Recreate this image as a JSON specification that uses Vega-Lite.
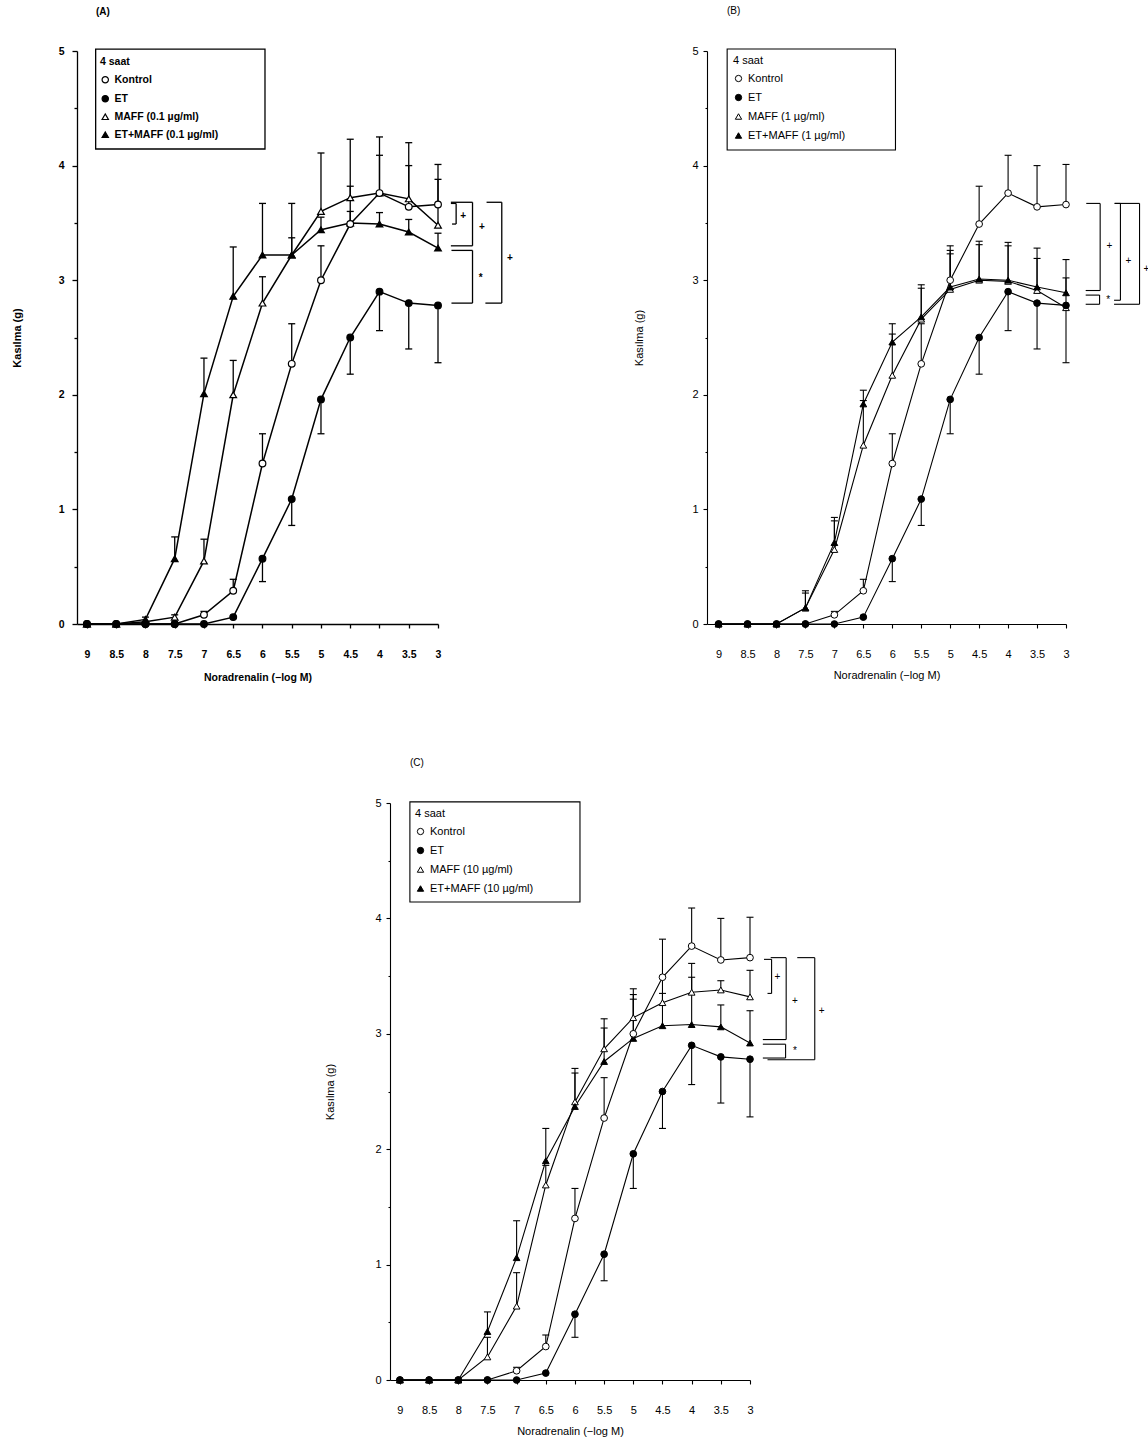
{
  "$schema": "https://vega.github.io/schema/vega-lite/v6.json",
  "background": "white",
  "padding": {"left": 11, "top": 6, "right": 0, "bottom": 5},
  "config": {
    "view": {"stroke": null},
    "font": "Liberation Sans",
    "axis": {"domainColor": "black", "tickColor": "black", "labelColor": "black", "titleColor": "black", "grid": false, "labelFlush": false, "labelOverlap": false, "labelFont": "Liberation Sans", "titleFont": "Liberation Sans"},
    "legend": {"labelFont": "Liberation Sans", "titleFont": "Liberation Sans", "labelColor": "black", "titleColor": "black"},
    "title": {"font": "Liberation Sans", "color": "black"},
    "text": {"font": "Liberation Sans"}
  },
  "datasets": {
    "curves": [
      {"p":"A","g":"MAFF (0.1 µg/ml)","x":9,"y":0},
      {"p":"A","g":"MAFF (0.1 µg/ml)","x":8.5,"y":0},
      {"p":"A","g":"MAFF (0.1 µg/ml)","x":8,"y":0.02},
      {"p":"A","g":"MAFF (0.1 µg/ml)","x":7.5,"y":0.06,"e":0.08},
      {"p":"A","g":"MAFF (0.1 µg/ml)","x":7,"y":0.55,"e":0.74},
      {"p":"A","g":"MAFF (0.1 µg/ml)","x":6.5,"y":2.0,"e":2.3},
      {"p":"A","g":"MAFF (0.1 µg/ml)","x":6,"y":2.8,"e":3.03},
      {"p":"A","g":"MAFF (0.1 µg/ml)","x":5.5,"y":3.22,"e":3.67},
      {"p":"A","g":"MAFF (0.1 µg/ml)","x":5,"y":3.6,"e":4.11},
      {"p":"A","g":"MAFF (0.1 µg/ml)","x":4.5,"y":3.72,"e":4.23},
      {"p":"A","g":"MAFF (0.1 µg/ml)","x":4,"y":3.76,"e":4.25},
      {"p":"A","g":"MAFF (0.1 µg/ml)","x":3.5,"y":3.71,"e":4.2},
      {"p":"A","g":"MAFF (0.1 µg/ml)","x":3,"y":3.48,"e":3.88},
      {"p":"A","g":"ET+MAFF (0.1 µg/ml)","x":9,"y":0},
      {"p":"A","g":"ET+MAFF (0.1 µg/ml)","x":8.5,"y":0},
      {"p":"A","g":"ET+MAFF (0.1 µg/ml)","x":8,"y":0.04,"e":0.06},
      {"p":"A","g":"ET+MAFF (0.1 µg/ml)","x":7.5,"y":0.57,"e":0.76},
      {"p":"A","g":"ET+MAFF (0.1 µg/ml)","x":7,"y":2.01,"e":2.32},
      {"p":"A","g":"ET+MAFF (0.1 µg/ml)","x":6.5,"y":2.86,"e":3.29},
      {"p":"A","g":"ET+MAFF (0.1 µg/ml)","x":6,"y":3.22,"e":3.67},
      {"p":"A","g":"ET+MAFF (0.1 µg/ml)","x":5.5,"y":3.22,"e":3.37},
      {"p":"A","g":"ET+MAFF (0.1 µg/ml)","x":5,"y":3.44,"e":3.55},
      {"p":"A","g":"ET+MAFF (0.1 µg/ml)","x":4.5,"y":3.5,"e":3.6},
      {"p":"A","g":"ET+MAFF (0.1 µg/ml)","x":4,"y":3.49,"e":3.59},
      {"p":"A","g":"ET+MAFF (0.1 µg/ml)","x":3.5,"y":3.42,"e":3.53},
      {"p":"A","g":"ET+MAFF (0.1 µg/ml)","x":3,"y":3.28,"e":3.41},
      {"p":"B","g":"MAFF (1 µg/ml)","x":9,"y":0},
      {"p":"B","g":"MAFF (1 µg/ml)","x":8.5,"y":0},
      {"p":"B","g":"MAFF (1 µg/ml)","x":8,"y":0},
      {"p":"B","g":"MAFF (1 µg/ml)","x":7.5,"y":0.14,"e":0.27},
      {"p":"B","g":"MAFF (1 µg/ml)","x":7,"y":0.65,"e":0.9},
      {"p":"B","g":"MAFF (1 µg/ml)","x":6.5,"y":1.56,"e":1.95},
      {"p":"B","g":"MAFF (1 µg/ml)","x":6,"y":2.17,"e":2.53},
      {"p":"B","g":"MAFF (1 µg/ml)","x":5.5,"y":2.66,"e":2.93},
      {"p":"B","g":"MAFF (1 µg/ml)","x":5,"y":2.92,"e":3.23},
      {"p":"B","g":"MAFF (1 µg/ml)","x":4.5,"y":3.0,"e":3.31},
      {"p":"B","g":"MAFF (1 µg/ml)","x":4,"y":2.99,"e":3.3},
      {"p":"B","g":"MAFF (1 µg/ml)","x":3.5,"y":2.91,"e":3.19},
      {"p":"B","g":"MAFF (1 µg/ml)","x":3,"y":2.76,"e":3.02},
      {"p":"B","g":"ET+MAFF (1 µg/ml)","x":9,"y":0},
      {"p":"B","g":"ET+MAFF (1 µg/ml)","x":8.5,"y":0},
      {"p":"B","g":"ET+MAFF (1 µg/ml)","x":8,"y":0},
      {"p":"B","g":"ET+MAFF (1 µg/ml)","x":7.5,"y":0.14,"e":0.29},
      {"p":"B","g":"ET+MAFF (1 µg/ml)","x":7,"y":0.71,"e":0.93},
      {"p":"B","g":"ET+MAFF (1 µg/ml)","x":6.5,"y":1.92,"e":2.04},
      {"p":"B","g":"ET+MAFF (1 µg/ml)","x":6,"y":2.46,"e":2.62},
      {"p":"B","g":"ET+MAFF (1 µg/ml)","x":5.5,"y":2.68,"e":2.96},
      {"p":"B","g":"ET+MAFF (1 µg/ml)","x":5,"y":2.94,"e":3.26},
      {"p":"B","g":"ET+MAFF (1 µg/ml)","x":4.5,"y":3.01,"e":3.34},
      {"p":"B","g":"ET+MAFF (1 µg/ml)","x":4,"y":3.0,"e":3.33},
      {"p":"B","g":"ET+MAFF (1 µg/ml)","x":3.5,"y":2.94,"e":3.28},
      {"p":"B","g":"ET+MAFF (1 µg/ml)","x":3,"y":2.89,"e":3.18},
      {"p":"C","g":"MAFF (10 µg/ml)","x":9,"y":0},
      {"p":"C","g":"MAFF (10 µg/ml)","x":8.5,"y":0},
      {"p":"C","g":"MAFF (10 µg/ml)","x":8,"y":0},
      {"p":"C","g":"MAFF (10 µg/ml)","x":7.5,"y":0.2,"e":0.37},
      {"p":"C","g":"MAFF (10 µg/ml)","x":7,"y":0.64,"e":0.93},
      {"p":"C","g":"MAFF (10 µg/ml)","x":6.5,"y":1.69,"e":1.86},
      {"p":"C","g":"MAFF (10 µg/ml)","x":6,"y":2.41,"e":2.7},
      {"p":"C","g":"MAFF (10 µg/ml)","x":5.5,"y":2.87,"e":3.13},
      {"p":"C","g":"MAFF (10 µg/ml)","x":5,"y":3.14,"e":3.39},
      {"p":"C","g":"MAFF (10 µg/ml)","x":4.5,"y":3.27,"e":3.5},
      {"p":"C","g":"MAFF (10 µg/ml)","x":4,"y":3.36,"e":3.61},
      {"p":"C","g":"MAFF (10 µg/ml)","x":3.5,"y":3.38,"e":3.46},
      {"p":"C","g":"MAFF (10 µg/ml)","x":3,"y":3.32,"e":3.55},
      {"p":"C","g":"ET+MAFF (10 µg/ml)","x":9,"y":0},
      {"p":"C","g":"ET+MAFF (10 µg/ml)","x":8.5,"y":0},
      {"p":"C","g":"ET+MAFF (10 µg/ml)","x":8,"y":0},
      {"p":"C","g":"ET+MAFF (10 µg/ml)","x":7.5,"y":0.42,"e":0.59},
      {"p":"C","g":"ET+MAFF (10 µg/ml)","x":7,"y":1.06,"e":1.38},
      {"p":"C","g":"ET+MAFF (10 µg/ml)","x":6.5,"y":1.9,"e":2.18},
      {"p":"C","g":"ET+MAFF (10 µg/ml)","x":6,"y":2.37,"e":2.66},
      {"p":"C","g":"ET+MAFF (10 µg/ml)","x":5.5,"y":2.76,"e":3.05},
      {"p":"C","g":"ET+MAFF (10 µg/ml)","x":5,"y":2.96,"e":3.34},
      {"p":"C","g":"ET+MAFF (10 µg/ml)","x":4.5,"y":3.07,"e":3.35},
      {"p":"C","g":"ET+MAFF (10 µg/ml)","x":4,"y":3.08,"e":3.49},
      {"p":"C","g":"ET+MAFF (10 µg/ml)","x":3.5,"y":3.06,"e":3.25},
      {"p":"C","g":"ET+MAFF (10 µg/ml)","x":3,"y":2.92,"e":3.2},
      {"p":"all","g":"Kontrol","x":9,"y":0},
      {"p":"all","g":"Kontrol","x":8.5,"y":0},
      {"p":"all","g":"Kontrol","x":8,"y":0},
      {"p":"all","g":"Kontrol","x":7.5,"y":0},
      {"p":"all","g":"Kontrol","x":7,"y":0.08,"e":0.11},
      {"p":"all","g":"Kontrol","x":6.5,"y":0.29,"e":0.39},
      {"p":"all","g":"Kontrol","x":6,"y":1.4,"e":1.66},
      {"p":"all","g":"Kontrol","x":5.5,"y":2.27,"e":2.62},
      {"p":"all","g":"Kontrol","x":5,"y":3.0,"e":3.3},
      {"p":"all","g":"Kontrol","x":4.5,"y":3.49,"e":3.82},
      {"p":"all","g":"Kontrol","x":4,"y":3.76,"e":4.09},
      {"p":"all","g":"Kontrol","x":3.5,"y":3.64,"e":4.0},
      {"p":"all","g":"Kontrol","x":3,"y":3.66,"e":4.01},
      {"p":"all","g":"ET","x":9,"y":0},
      {"p":"all","g":"ET","x":8.5,"y":0},
      {"p":"all","g":"ET","x":8,"y":0},
      {"p":"all","g":"ET","x":7.5,"y":0},
      {"p":"all","g":"ET","x":7,"y":0},
      {"p":"all","g":"ET","x":6.5,"y":0.06},
      {"p":"all","g":"ET","x":6,"y":0.57,"e":0.37},
      {"p":"all","g":"ET","x":5.5,"y":1.09,"e":0.86},
      {"p":"all","g":"ET","x":5,"y":1.96,"e":1.66},
      {"p":"all","g":"ET","x":4.5,"y":2.5,"e":2.18},
      {"p":"all","g":"ET","x":4,"y":2.9,"e":2.56},
      {"p":"all","g":"ET","x":3.5,"y":2.8,"e":2.4},
      {"p":"all","g":"ET","x":3,"y":2.78,"e":2.28}
    ],
    "brackets": [
      {"p":"A","xt":2.78,"xb":2.76,"xr":2.69,"yt":3.67,"yb":3.49,"lab":"+","lx":2.57,"ly":3.56},
      {"p":"A","xt":2.78,"xb":2.78,"xr":2.41,"yt":3.68,"yb":3.3,"lab":"+","lx":2.25,"ly":3.46},
      {"p":"A","xt":2.77,"xb":2.77,"xr":2.41,"yt":3.26,"yb":2.8,"lab":"*","lx":2.27,"ly":3.02},
      {"p":"A","xt":2.17,"xb":2.19,"xr":1.91,"yt":3.68,"yb":2.8,"lab":"+","lx":1.77,"ly":3.19},
      {"p":"B","xt":2.65,"xb":2.66,"xr":2.41,"yt":3.67,"yb":2.91,"lab":"+","lx":2.25,"ly":3.3},
      {"p":"B","xt":2.66,"xb":2.66,"xr":2.42,"yt":2.87,"yb":2.79,"lab":"*","lx":2.27,"ly":2.83},
      {"p":"B","xt":2.16,"xb":2.17,"xr":2.06,"yt":3.67,"yb":2.825,"lab":"+","lx":1.92,"ly":3.17},
      {"p":"B","xt":2.16,"xb":2.17,"xr":1.73,"yt":3.67,"yb":2.79,"lab":"+","lx":1.61,"ly":3.1},
      {"p":"C","xt":2.76,"xb":2.7,"xr":2.63,"yt":3.645,"yb":3.35,"lab":"+","lx":2.53,"ly":3.49},
      {"p":"C","xt":2.645,"xb":2.78,"xr":2.38,"yt":3.66,"yb":2.95,"lab":"+","lx":2.23,"ly":3.28},
      {"p":"C","xt":2.78,"xb":2.78,"xr":2.39,"yt":2.91,"yb":2.79,"lab":"*","lx":2.23,"ly":2.85},
      {"p":"C","xt":2.19,"xb":2.7,"xr":1.89,"yt":3.66,"yb":2.775,"lab":"+","lx":1.77,"ly":3.2}
    ]
  },
  "spacing": 75,
  "resolve": {"scale": {"shape": "independent", "fill": "independent", "stroke": "independent"}},
  "vconcat": [
    {
      "spacing": 120,
      "resolve": {"scale": {"shape": "independent", "fill": "independent", "stroke": "independent"}},
      "hconcat": [
        {
          "width": 361,
          "height": 573,
          "title": {"text": "(A)", "anchor": "start", "frame": "group", "dx": 19, "offset": 19, "baseline": "bottom", "fontSize": 10, "fontWeight": "bold"},
          "layer": [
            {
              "data": {"values": [{}]},
              "mark": {"type": "rect", "fill": "white", "stroke": "black", "strokeWidth": 1.3},
              "encoding": {
                "x": {"datum": 8.851, "type": "quantitative", "scale": {"domain": [3, 9.17], "reverse": true, "nice": false, "zero": false}},
                "x2": {"datum": 5.957},
                "y": {"datum": 5.017, "type": "quantitative", "scale": {"domain": [0, 5], "nice": false, "zero": false}},
                "y2": {"datum": 4.145}
              }
            },
            {
              "data": {"name": "curves"},
              "transform": [{"filter": "datum.p === 'A' || datum.p === 'all'"}],
              "mark": {"type": "line", "color": "black", "strokeWidth": 1.5},
              "encoding": {
                "x": {"field": "x", "type": "quantitative",
                  "scale": {"domain": [3, 9.17], "reverse": true, "nice": false, "zero": false},
                  "axis": {"title": "Noradrenalin (−log M)", "values": [9, 8.5, 8, 7.5, 7, 6.5, 6, 5.5, 5, 4.5, 4, 3.5, 3], "tickCount": 20, "format": "~g", "labelOverlap": false, "labelFlush": false, "tickSize": 4, "labelPadding": 21, "titlePadding": 13, "labelFontSize": 10.5, "labelFontWeight": "bold", "titleFontSize": 10.5, "titleFontWeight": "bold", "domainWidth": 1.3, "tickWidth": 1.3}},
                "y": {"field": "y", "type": "quantitative",
                  "scale": {"domain": [0, 5], "nice": false, "zero": false},
                  "axis": {"title": "Kasılma (g)", "values": [0, 0.5, 1, 1.5, 2, 2.5, 3, 3.5, 4, 4.5, 5], "tickCount": 20, "format": "~g", "labelOverlap": false, "labelExpr": "datum.value % 1 === 0 ? datum.label : ''", "tickSize": {"condition": {"test": "datum.value % 1 !== 0", "value": 3}, "value": 5}, "labelPadding": 8, "titlePadding": 36, "labelFontSize": 10.5, "labelFontWeight": "bold", "titleFontSize": 11, "titleFontWeight": "bold", "domainWidth": 1.3, "tickWidth": 1.3}},
                "detail": {"field": "g"}
              }
            },
            {
              "data": {"name": "curves"},
              "transform": [{"filter": "(datum.p === 'A' || datum.p === 'all') && datum.e != null"}],
              "mark": {"type": "rule", "color": "black", "strokeWidth": 1.3},
              "encoding": {"x": {"field": "x", "type": "quantitative"}, "y": {"field": "y", "type": "quantitative"}, "y2": {"field": "e"}}
            },
            {
              "data": {"name": "curves"},
              "transform": [{"filter": "(datum.p === 'A' || datum.p === 'all') && datum.e != null"}],
              "mark": {"type": "tick", "orient": "horizontal", "color": "black", "size": 7, "thickness": 1.3, "opacity": 1},
              "encoding": {"x": {"field": "x", "type": "quantitative"}, "y": {"field": "e", "type": "quantitative"}}
            },
            {
              "data": {"name": "curves"},
              "transform": [{"filter": "datum.p === 'A' || datum.p === 'all'"}],
              "mark": {"type": "point", "filled": true, "strokeWidth": 1.2, "size": 45, "opacity": 1},
              "encoding": {
                "x": {"field": "x", "type": "quantitative"},
                "y": {"field": "y", "type": "quantitative"},
                "shape": {"field": "g", "type": "nominal",
                  "scale": {"domain": ["Kontrol", "ET", "MAFF (0.1 µg/ml)", "ET+MAFF (0.1 µg/ml)"], "range": ["circle", "circle", "triangle-up", "triangle-up"]},
                  "legend": {"title": "4 saat", "orient": "none", "legendX": 17, "legendY": 0, "padding": 6, "titlePadding": 7, "rowPadding": 7, "labelOffset": 4, "symbolSize": 40, "symbolStrokeWidth": 1.2, "labelFontSize": 10.5, "labelFontWeight": "bold", "titleFontSize": 10.5, "titleFontWeight": "bold"}},
                "fill": {"field": "g", "type": "nominal",
                  "scale": {"domain": ["Kontrol", "ET", "MAFF (0.1 µg/ml)", "ET+MAFF (0.1 µg/ml)"], "range": ["white", "black", "white", "black"]},
                  "legend": {"title": "4 saat", "orient": "none", "legendX": 17, "legendY": 0, "padding": 6, "titlePadding": 7, "rowPadding": 7, "labelOffset": 4, "symbolSize": 40, "symbolStrokeWidth": 1.2, "labelFontSize": 10.5, "labelFontWeight": "bold", "titleFontSize": 10.5, "titleFontWeight": "bold"}},
                "stroke": {"field": "g", "type": "nominal",
                  "scale": {"domain": ["Kontrol", "ET", "MAFF (0.1 µg/ml)", "ET+MAFF (0.1 µg/ml)"], "range": ["black", "black", "black", "black"]},
                  "legend": {"title": "4 saat", "orient": "none", "legendX": 17, "legendY": 0, "padding": 6, "titlePadding": 7, "rowPadding": 7, "labelOffset": 4, "symbolSize": 40, "symbolStrokeWidth": 1.2, "labelFontSize": 10.5, "labelFontWeight": "bold", "titleFontSize": 10.5, "titleFontWeight": "bold"}}
              }
            },
            {
              "data": {"name": "brackets"},
              "transform": [{"filter": "datum.p === 'A'"}],
              "mark": {"type": "rule", "color": "black", "strokeWidth": 1.3},
              "encoding": {"x": {"field": "xt", "type": "quantitative"}, "x2": {"field": "xr"}, "y": {"field": "yt", "type": "quantitative"}}
            },
            {
              "data": {"name": "brackets"},
              "transform": [{"filter": "datum.p === 'A'"}],
              "mark": {"type": "rule", "color": "black", "strokeWidth": 1.3},
              "encoding": {"x": {"field": "xb", "type": "quantitative"}, "x2": {"field": "xr"}, "y": {"field": "yb", "type": "quantitative"}}
            },
            {
              "data": {"name": "brackets"},
              "transform": [{"filter": "datum.p === 'A'"}],
              "mark": {"type": "rule", "color": "black", "strokeWidth": 1.3},
              "encoding": {"x": {"field": "xr", "type": "quantitative"}, "y": {"field": "yt", "type": "quantitative"}, "y2": {"field": "yb"}}
            },
            {
              "data": {"name": "brackets"},
              "transform": [{"filter": "datum.p === 'A'"}],
              "mark": {"type": "text", "color": "black", "fontSize": 10, "fontWeight": "bold"},
              "encoding": {"x": {"field": "lx", "type": "quantitative"}, "y": {"field": "ly", "type": "quantitative"}, "text": {"field": "lab"}}
            }
          ]
        },
        {
          "width": 359,
          "height": 573,
          "title": {"text": "(B)", "anchor": "start", "frame": "group", "dx": 20, "offset": 19, "baseline": "bottom", "fontSize": 10, "fontWeight": "normal"},
          "layer": [
            {
              "data": {"values": [{}]},
              "mark": {"type": "rect", "fill": "white", "stroke": "black", "strokeWidth": 1.1},
              "encoding": {
                "x": {"datum": 8.852, "type": "quantitative", "scale": {"domain": [3, 9.2], "reverse": true, "nice": false, "zero": false}},
                "x2": {"datum": 5.945},
                "y": {"datum": 5.017, "type": "quantitative", "scale": {"domain": [0, 5], "nice": false, "zero": false}},
                "y2": {"datum": 4.136}
              }
            },
            {
              "data": {"name": "curves"},
              "transform": [{"filter": "datum.p === 'B' || datum.p === 'all'"}],
              "mark": {"type": "line", "color": "black", "strokeWidth": 1.1},
              "encoding": {
                "x": {"field": "x", "type": "quantitative",
                  "scale": {"domain": [3, 9.2], "reverse": true, "nice": false, "zero": false},
                  "axis": {"title": "Noradrenalin (−log M)", "values": [9, 8.5, 8, 7.5, 7, 6.5, 6, 5.5, 5, 4.5, 4, 3.5, 3], "tickCount": 20, "format": "~g", "labelOverlap": false, "labelFlush": false, "tickSize": 4, "labelPadding": 20, "titlePadding": 10, "labelFontSize": 11, "titleFontSize": 11, "titleFontWeight": "normal", "domainWidth": 1.1, "tickWidth": 1.1}},
                "y": {"field": "y", "type": "quantitative",
                  "scale": {"domain": [0, 5], "nice": false, "zero": false},
                  "axis": {"title": "Kasılma (g)", "values": [0, 0.5, 1, 1.5, 2, 2.5, 3, 3.5, 4, 4.5, 5], "tickCount": 20, "format": "~g", "labelOverlap": false, "labelExpr": "datum.value % 1 === 0 ? datum.label : ''", "tickSize": {"condition": {"test": "datum.value % 1 !== 0", "value": 2}, "value": 4}, "labelPadding": 5, "titlePadding": 47, "labelFontSize": 11, "titleFontSize": 11, "titleFontWeight": "normal", "domainWidth": 1.1, "tickWidth": 1.1}},
                "detail": {"field": "g"}
              }
            },
            {
              "data": {"name": "curves"},
              "transform": [{"filter": "(datum.p === 'B' || datum.p === 'all') && datum.e != null"}],
              "mark": {"type": "rule", "color": "black", "strokeWidth": 1.1},
              "encoding": {"x": {"field": "x", "type": "quantitative"}, "y": {"field": "y", "type": "quantitative"}, "y2": {"field": "e"}}
            },
            {
              "data": {"name": "curves"},
              "transform": [{"filter": "(datum.p === 'B' || datum.p === 'all') && datum.e != null"}],
              "mark": {"type": "tick", "orient": "horizontal", "color": "black", "size": 7, "thickness": 1.1, "opacity": 1},
              "encoding": {"x": {"field": "x", "type": "quantitative"}, "y": {"field": "e", "type": "quantitative"}}
            },
            {
              "data": {"name": "curves"},
              "transform": [{"filter": "datum.p === 'B' || datum.p === 'all'"}],
              "mark": {"type": "point", "filled": true, "strokeWidth": 1, "size": 45, "opacity": 1},
              "encoding": {
                "x": {"field": "x", "type": "quantitative"},
                "y": {"field": "y", "type": "quantitative"},
                "shape": {"field": "g", "type": "nominal",
                  "scale": {"domain": ["Kontrol", "ET", "MAFF (1 µg/ml)", "ET+MAFF (1 µg/ml)"], "range": ["circle", "circle", "triangle-up", "triangle-up"]},
                  "legend": {"title": "4 saat", "orient": "none", "legendX": 20, "legendY": -2, "padding": 6, "titlePadding": 7, "rowPadding": 7, "labelOffset": 4, "symbolSize": 40, "symbolStrokeWidth": 1, "labelFontSize": 11, "titleFontSize": 11, "titleFontWeight": "normal"}},
                "fill": {"field": "g", "type": "nominal",
                  "scale": {"domain": ["Kontrol", "ET", "MAFF (1 µg/ml)", "ET+MAFF (1 µg/ml)"], "range": ["white", "black", "white", "black"]},
                  "legend": {"title": "4 saat", "orient": "none", "legendX": 20, "legendY": -2, "padding": 6, "titlePadding": 7, "rowPadding": 7, "labelOffset": 4, "symbolSize": 40, "symbolStrokeWidth": 1, "labelFontSize": 11, "titleFontSize": 11, "titleFontWeight": "normal"}},
                "stroke": {"field": "g", "type": "nominal",
                  "scale": {"domain": ["Kontrol", "ET", "MAFF (1 µg/ml)", "ET+MAFF (1 µg/ml)"], "range": ["black", "black", "black", "black"]},
                  "legend": {"title": "4 saat", "orient": "none", "legendX": 20, "legendY": -2, "padding": 6, "titlePadding": 7, "rowPadding": 7, "labelOffset": 4, "symbolSize": 40, "symbolStrokeWidth": 1, "labelFontSize": 11, "titleFontSize": 11, "titleFontWeight": "normal"}}
              }
            },
            {
              "data": {"name": "brackets"},
              "transform": [{"filter": "datum.p === 'B'"}],
              "mark": {"type": "rule", "color": "black", "strokeWidth": 1.1},
              "encoding": {"x": {"field": "xt", "type": "quantitative"}, "x2": {"field": "xr"}, "y": {"field": "yt", "type": "quantitative"}}
            },
            {
              "data": {"name": "brackets"},
              "transform": [{"filter": "datum.p === 'B'"}],
              "mark": {"type": "rule", "color": "black", "strokeWidth": 1.1},
              "encoding": {"x": {"field": "xb", "type": "quantitative"}, "x2": {"field": "xr"}, "y": {"field": "yb", "type": "quantitative"}}
            },
            {
              "data": {"name": "brackets"},
              "transform": [{"filter": "datum.p === 'B'"}],
              "mark": {"type": "rule", "color": "black", "strokeWidth": 1.1},
              "encoding": {"x": {"field": "xr", "type": "quantitative"}, "y": {"field": "yt", "type": "quantitative"}, "y2": {"field": "yb"}}
            },
            {
              "data": {"name": "brackets"},
              "transform": [{"filter": "datum.p === 'B'"}],
              "mark": {"type": "text", "color": "black", "fontSize": 10},
              "encoding": {"x": {"field": "lx", "type": "quantitative"}, "y": {"field": "ly", "type": "quantitative"}, "text": {"field": "lab"}}
            }
          ]
        }
      ]
    },
    {
      "spacing": 20,
      "resolve": {"scale": {"shape": "independent", "fill": "independent", "stroke": "independent"}},
      "hconcat": [
        {
          "width": 227,
          "height": 10,
          "data": {"values": [{"v": 0}]},
          "mark": {"type": "point", "opacity": 0},
          "encoding": {}
        },
        {
          "width": 360,
          "height": 577,
          "title": {"text": "(C)", "anchor": "start", "frame": "group", "dx": 20, "offset": 19, "baseline": "bottom", "fontSize": 10, "fontWeight": "normal"},
          "layer": [
            {
              "data": {"values": [{}]},
              "mark": {"type": "rect", "fill": "white", "stroke": "black", "strokeWidth": 1.1},
              "encoding": {
                "x": {"datum": 8.829, "type": "quantitative", "scale": {"domain": [3, 9.17], "reverse": true, "nice": false, "zero": false}},
                "x2": {"datum": 5.914},
                "y": {"datum": 5.01, "type": "quantitative", "scale": {"domain": [0, 5], "nice": false, "zero": false}},
                "y2": {"datum": 4.142}
              }
            },
            {
              "data": {"name": "curves"},
              "transform": [{"filter": "datum.p === 'C' || datum.p === 'all'"}],
              "mark": {"type": "line", "color": "black", "strokeWidth": 1.1},
              "encoding": {
                "x": {"field": "x", "type": "quantitative",
                  "scale": {"domain": [3, 9.17], "reverse": true, "nice": false, "zero": false},
                  "axis": {"title": "Noradrenalin (−log M)", "values": [9, 8.5, 8, 7.5, 7, 6.5, 6, 5.5, 5, 4.5, 4, 3.5, 3], "tickCount": 20, "format": "~g", "labelOverlap": false, "labelFlush": false, "tickSize": 4, "labelPadding": 20, "titlePadding": 10, "labelFontSize": 11, "titleFontSize": 11, "titleFontWeight": "normal", "domainWidth": 1.1, "tickWidth": 1.1}},
                "y": {"field": "y", "type": "quantitative",
                  "scale": {"domain": [0, 5], "nice": false, "zero": false},
                  "axis": {"title": "Kasılma (g)", "values": [0, 0.5, 1, 1.5, 2, 2.5, 3, 3.5, 4, 4.5, 5], "tickCount": 20, "format": "~g", "labelOverlap": false, "labelExpr": "datum.value % 1 === 0 ? datum.label : ''", "tickSize": {"condition": {"test": "datum.value % 1 !== 0", "value": 2}, "value": 4}, "labelPadding": 5, "titlePadding": 39, "labelFontSize": 11, "titleFontSize": 11, "titleFontWeight": "normal", "domainWidth": 1.1, "tickWidth": 1.1}},
                "detail": {"field": "g"}
              }
            },
            {
              "data": {"name": "curves"},
              "transform": [{"filter": "(datum.p === 'C' || datum.p === 'all') && datum.e != null"}],
              "mark": {"type": "rule", "color": "black", "strokeWidth": 1.1},
              "encoding": {"x": {"field": "x", "type": "quantitative"}, "y": {"field": "y", "type": "quantitative"}, "y2": {"field": "e"}}
            },
            {
              "data": {"name": "curves"},
              "transform": [{"filter": "(datum.p === 'C' || datum.p === 'all') && datum.e != null"}],
              "mark": {"type": "tick", "orient": "horizontal", "color": "black", "size": 7, "thickness": 1.1, "opacity": 1},
              "encoding": {"x": {"field": "x", "type": "quantitative"}, "y": {"field": "e", "type": "quantitative"}}
            },
            {
              "data": {"name": "curves"},
              "transform": [{"filter": "datum.p === 'C' || datum.p === 'all'"}],
              "mark": {"type": "point", "filled": true, "strokeWidth": 1, "size": 45, "opacity": 1},
              "encoding": {
                "x": {"field": "x", "type": "quantitative"},
                "y": {"field": "y", "type": "quantitative"},
                "shape": {"field": "g", "type": "nominal",
                  "scale": {"domain": ["Kontrol", "ET", "MAFF (10 µg/ml)", "ET+MAFF (10 µg/ml)"], "range": ["circle", "circle", "triangle-up", "triangle-up"]},
                  "legend": {"title": "4 saat", "orient": "none", "legendX": 19, "legendY": -1, "padding": 6, "titlePadding": 7, "rowPadding": 7, "labelOffset": 4, "symbolSize": 40, "symbolStrokeWidth": 1, "labelFontSize": 11, "titleFontSize": 11, "titleFontWeight": "normal"}},
                "fill": {"field": "g", "type": "nominal",
                  "scale": {"domain": ["Kontrol", "ET", "MAFF (10 µg/ml)", "ET+MAFF (10 µg/ml)"], "range": ["white", "black", "white", "black"]},
                  "legend": {"title": "4 saat", "orient": "none", "legendX": 19, "legendY": -1, "padding": 6, "titlePadding": 7, "rowPadding": 7, "labelOffset": 4, "symbolSize": 40, "symbolStrokeWidth": 1, "labelFontSize": 11, "titleFontSize": 11, "titleFontWeight": "normal"}},
                "stroke": {"field": "g", "type": "nominal",
                  "scale": {"domain": ["Kontrol", "ET", "MAFF (10 µg/ml)", "ET+MAFF (10 µg/ml)"], "range": ["black", "black", "black", "black"]},
                  "legend": {"title": "4 saat", "orient": "none", "legendX": 19, "legendY": -1, "padding": 6, "titlePadding": 7, "rowPadding": 7, "labelOffset": 4, "symbolSize": 40, "symbolStrokeWidth": 1, "labelFontSize": 11, "titleFontSize": 11, "titleFontWeight": "normal"}}
              }
            },
            {
              "data": {"name": "brackets"},
              "transform": [{"filter": "datum.p === 'C'"}],
              "mark": {"type": "rule", "color": "black", "strokeWidth": 1.1},
              "encoding": {"x": {"field": "xt", "type": "quantitative"}, "x2": {"field": "xr"}, "y": {"field": "yt", "type": "quantitative"}}
            },
            {
              "data": {"name": "brackets"},
              "transform": [{"filter": "datum.p === 'C'"}],
              "mark": {"type": "rule", "color": "black", "strokeWidth": 1.1},
              "encoding": {"x": {"field": "xb", "type": "quantitative"}, "x2": {"field": "xr"}, "y": {"field": "yb", "type": "quantitative"}}
            },
            {
              "data": {"name": "brackets"},
              "transform": [{"filter": "datum.p === 'C'"}],
              "mark": {"type": "rule", "color": "black", "strokeWidth": 1.1},
              "encoding": {"x": {"field": "xr", "type": "quantitative"}, "y": {"field": "yt", "type": "quantitative"}, "y2": {"field": "yb"}}
            },
            {
              "data": {"name": "brackets"},
              "transform": [{"filter": "datum.p === 'C'"}],
              "mark": {"type": "text", "color": "black", "fontSize": 10},
              "encoding": {"x": {"field": "lx", "type": "quantitative"}, "y": {"field": "ly", "type": "quantitative"}, "text": {"field": "lab"}}
            }
          ]
        }
      ]
    }
  ]
}
